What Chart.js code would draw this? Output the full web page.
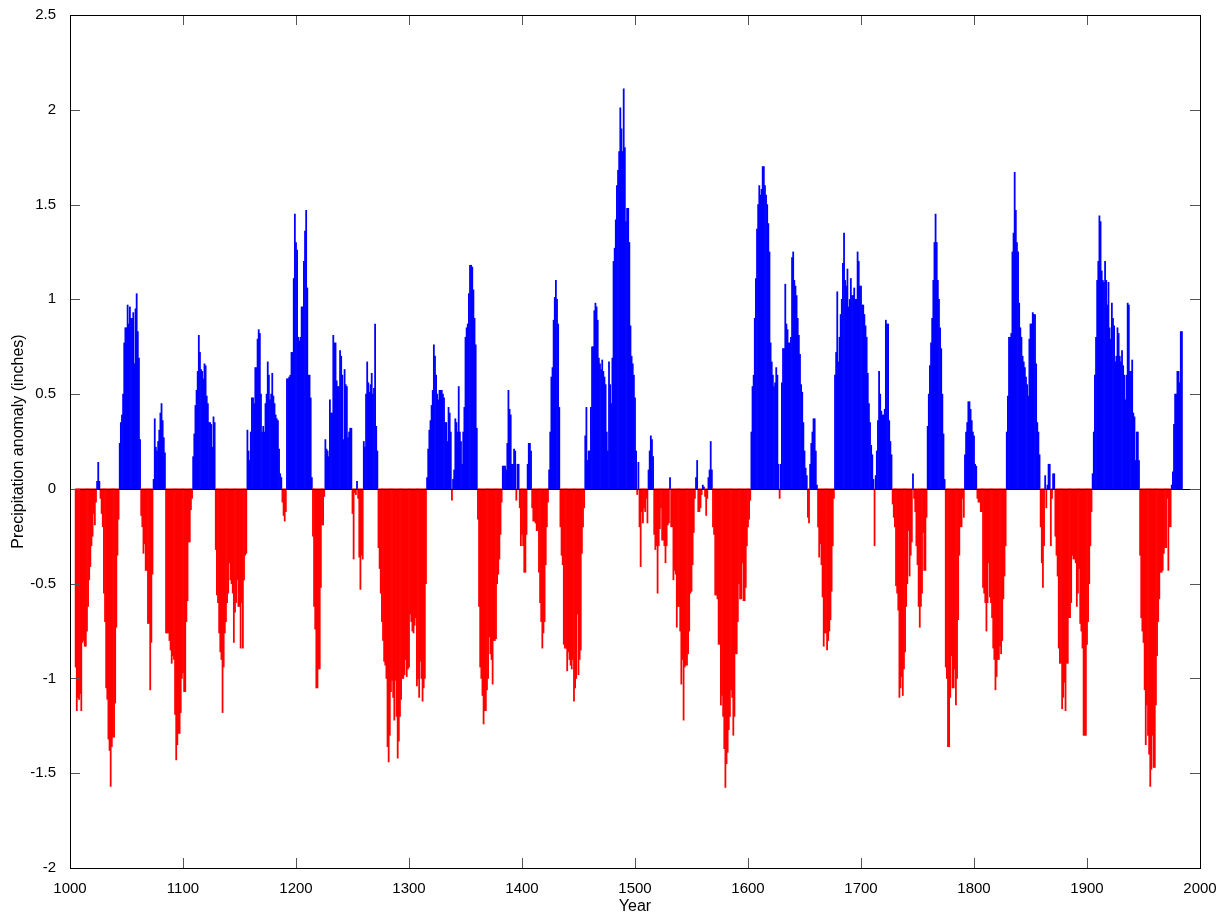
<!DOCTYPE html>
<html>
<head>
<meta charset="utf-8">
<script src="https://cdn.jsdelivr.net/npm/chart.js@4.4.0/dist/chart.umd.min.js"></script>
<style>
  html, body { margin: 0; padding: 0; background: #fff; }
</style>
</head>
<body>
<canvas id="myChart" width="1225" height="918"></canvas>
<script>
// yearly precipitation anomaly (inches), one value per year
const firstYear = 1005;

const p1000s = [
  -0.94, -1.17, -1.1, -1.11, -1.08,
  -1.17, -0.81, -0.8, -0.83, -0.83, -0.75, -0.62, -0.48, -0.41, -0.3,
  -0.25, -0.13, -0.19, -0.07, 0.04, 0.14, 0.04, -0.05, -0.13, -0.2,
  -0.55, -0.7, -1.05, -1.11, -1.32, -1.38, -1.57, -1.36, -1.31, -1.31,
  -1.13, -0.73, -0.35, -0.16, 0.24, 0.35, 0.39, 0.5, 0.77, 0.85,
  0.85, 0.97, 0.87, 0.96, 0.9, 0.9, 0.93, 0.66, 0.95, 1.03,
  0.83, 0.69, 0.26, -0.14, -0.2, -0.34, -0.29, -0.43, -0.43, -0.71,
  -0.71, -1.06, -0.81, -0.45, 0.05, 0.37, 0.22, 0.2, 0.25, 0.31,
  0.4, 0.45, 0.36, 0.27, 0.19, -0.76, -0.76, -0.76, -0.8, -0.85,
  -0.92, -0.88, -0.9, -1.19, -1.43, -1.35, -1.29, -1.29, -1.18, -1.0
];
const p1100s = [
  -0.97, -1.07, -1.07, -0.7, -0.59, -0.28, -0.28, -0.11, -0.05, 0.17,
  0.29, 0.44, 0.52, 0.62, 0.81, 0.72, 0.63, 0.62, 0.58, 0.66,
  0.65, 0.49, 0.45, 0.35, 0.35, 0.34, 0.22, 0.38, 0.35, -0.32,
  -0.56, -0.6, -0.76, -0.86, -0.9, -1.18, -0.94, -0.76, -0.7, -0.6,
  -0.55, -0.39, -0.48, -0.5, -0.55, -0.81, -0.65, -0.6, -0.48, -0.62,
  -0.62, -0.84, -0.6, -0.84, -0.48, -0.35, -0.34, 0.31, 0.2, 0.15,
  0.3, 0.48, 0.48, 0.45, 0.64, 0.64, 0.79, 0.84, 0.82, 0.5,
  0.3, 0.33, 0.3, 0.45, 0.5, 0.67, 0.6, 0.47, 0.5, 0.61,
  0.49, 0.45, 0.39, 0.37, 0.36, 0.21, 0.08, 0.06, -0.07, -0.14,
  -0.17, -0.12, 0.58, 0.58, 0.59, 0.6, 0.72, 0.72, 1.11, 1.45
];
const p1200s = [
  1.3, 1.26, 0.8, 0.78, 0.8, 0.96, 0.96, 1.2, 1.36, 1.47,
  1.06, 0.6, 0.6, 0.48, 0.06, -0.25, -0.62, -0.74, -1.05, -1.05,
  -0.95, -0.95, -0.52, -0.19, -0.19, -0.04, 0.26, 0.21, 0.2, 0.17,
  0.47, 0.4, 0.4, 0.81, 0.77, 0.77, 0.57, 0.54, 0.54, 0.73,
  0.7, 0.6, 0.26, 0.63, 0.55, 0.54, 0.27, 0.3, 0.32, 0.32,
  -0.13, -0.37, -0.02, -0.03, 0.04, -0.05, -0.36, -0.53, -0.35, -0.37,
  0.25, 0.22, 0.5, 0.67, 0.56, 0.51, 0.55, 0.61, 0.5, 0.53,
  0.87, 0.33, 0.2, -0.31, -0.42, -0.55, -0.7, -0.8, -0.91, -0.93,
  -1.0, -1.36, -1.44, -1.3, -1.07, -1.01, -1.1, -1.22, -1.01, -1.2,
  -1.42, -1.33, -1.2, -1.11, -1.0, -1.0, -0.98, -0.9, -0.99, -0.95
];
const p1300s = [
  -0.94, -0.66, -0.7, -0.75, -0.76, -0.72, -0.68, -1.04, -1.0, -1.1,
  -0.91, -1.0, -1.12, -1.05, -1.0, -0.5, 0.06, 0.21, 0.31, 0.36,
  0.44, 0.52, 0.76, 0.7, 0.6, 0.5, 0.47, 0.52, 0.52, 0.52,
  0.5, 0.48, 0.35, 0.35, 0.25, 0.43, 0.4, 0.3, -0.06, 0.05,
  0.1, 0.37, 0.35, 0.3, 0.54, 0.3, 0.25, 0.13, 0.3, 0.43,
  0.8, 0.85, 0.87, 1.03, 1.18, 1.18, 1.17, 1.05, 0.9, 0.76,
  0.32, -0.16, -0.62, -0.94, -1.0, -1.09, -1.24, -1.17, -1.17, -1.06,
  -1.0, -0.78, -0.87, -0.9, -1.03, -0.8, -0.8, -0.79, -0.5, -0.45,
  -0.37, -0.24, -0.07, 0.12, 0.12, 0.12, 0.1, 0.24, 0.52, 0.42,
  0.39, 0.13, 0.13, 0.21, 0.2, -0.06, 0.13, 0.13, -0.1, -0.3
];
const p1400s = [
  -0.24, -0.3, -0.44, -0.44, -0.24, 0.13, 0.24, 0.24, 0.2, -0.1,
  -0.17, -0.17, -0.18, -0.22, -0.22, -0.44, -0.6, -0.7, -0.84, -0.76,
  -0.7, -0.4, -0.2, -0.07, 0.1, 0.3, 0.59, 0.64, 0.89, 1.01,
  1.1, 1.0, 0.87, 0.43, -0.2, -0.35, -0.4, -0.82, -0.84, -0.84,
  -0.96, -0.86, -0.9, -0.93, -0.95, -0.9, -1.12, -1.05, -1.0, -0.66,
  -0.98, -0.9, -0.85, -0.34, -0.2, -0.1, 0.28, 0.43, 0.15, 0.2,
  0.2, 0.43, 0.75, 0.75, 0.94, 0.98, 0.96, 0.89, 0.69, 0.66,
  0.63, 0.68, 0.62, 0.59, 0.55, 0.3, 0.2, 0.67, 0.55, 0.45,
  0.69, 1.2, 1.27, 1.42, 1.6, 1.68, 1.78, 2.01, 1.9, 1.78,
  2.11, 1.8, 1.41, 1.48, 1.48, 1.3, 0.86, 0.7, 0.66, 0.6
];
const p1500s = [
  0.48, 0.2, -0.03, 0.14, -0.2, -0.41, -0.12, -0.18, -0.1, -0.12,
  -0.05, -0.18, 0.1, 0.2, 0.28, 0.26, 0.17, -0.24, -0.32, -0.3,
  -0.55, -0.3, -0.21, -0.1, -0.27, -0.27, -0.3, -0.39, -0.3, -0.19,
  -0.18, 0.06, -0.2, -0.2, -0.48, -0.43, -0.45, -0.73, -0.62, -0.62,
  -0.75, -1.03, -0.9, -1.22, -0.94, -0.93, -0.93, -0.87, -0.75, -0.55,
  -0.54, -0.4, -0.23, -0.05, 0.06, 0.15, -0.12, -0.12, -0.1, -0.03,
  0.02, 0.01, -0.04, -0.14, -0.05, 0.06, 0.1, 0.25, 0.1, -0.2,
  -0.24, -0.56, -0.56, -0.58, -0.82, -0.82, -1.14, -1.09, -1.2, -1.37,
  -1.575, -1.45, -1.39, -1.27, -1.2, -1.06, -1.1, -1.3, -1.2, -0.87,
  -0.87, -0.7, -0.5, -0.58, -0.58, -0.39, -0.59, -0.59, -0.52, -0.3
];
const p1600s = [
  -0.2, -0.16, -0.06, 0.3, 0.54, 0.6, 0.9, 1.11, 1.37, 1.5,
  1.6, 1.55, 1.58, 1.7, 1.7, 1.6, 1.55, 1.5, 1.4, 1.25,
  0.77, 0.67, 0.6, 0.54, 0.56, 0.64, 0.6, 0.13, -0.05, 0.13,
  0.56, 0.74, 0.74, 1.08, 0.87, 0.84, 0.77, 0.77, 0.8, 1.22,
  1.25, 1.1, 1.07, 1.02, 0.9, 0.81, 0.71, 0.55, 0.51, 0.35,
  0.2, 0.11, 0.07, -0.15, -0.18, 0.13, 0.24, 0.3, 0.37, 0.37,
  0.2, 0.02, -0.2, -0.36, -0.29, -0.4, -0.57, -0.83, -0.76, -0.76,
  -0.85, -0.8, -0.75, -0.69, -0.54, -0.3, -0.05, 0.6, 0.72, 1.04,
  0.67, 0.8, 0.92, 1.0, 1.19, 1.35, 1.1, 1.07, 1.16, 0.96,
  1.0, 1.11, 1.02, 1.02, 1.06, 1.0, 1.0, 1.25, 1.2, 1.07
];
const p1700s = [
  1.07, 0.97, 0.97, 0.92, 0.86, 0.8, 0.61, 0.45, 0.35, 0.23,
  0.18, 0.05, -0.3, 0.07, 0.2, 0.36, 0.62, 0.5, 0.41, 0.39,
  0.39, 0.42, 0.89, 0.87, 0.87, 0.36, 0.25, 0.18, -0.08, -0.15,
  -0.2, -0.51, -0.55, -0.64, -1.1, -1.05, -0.99, -1.09, -0.95, -0.86,
  -0.62, -0.5, -0.22, -0.46, -0.35, -0.28, 0.08, -0.05, -0.12, -0.3,
  -0.4, -0.62, -0.73, -0.62, -0.55, -0.23, -0.43, -0.43, -0.15, 0.33,
  0.5, 0.65, 0.77, 0.9, 1.1, 1.3, 1.45, 1.3, 1.1, 1.0,
  0.85, 0.74, 0.5, 0.29, 0.05, -0.94, -1.0, -1.36, -1.36, -1.1,
  -0.88, -1.05, -1.05, -0.95, -1.14, -1.0, -0.69, -0.35, -0.2, -0.2,
  -0.05, -0.15, 0.18, 0.3, 0.35, 0.46, 0.46, 0.42, 0.36, 0.3
];
const p1800s = [
  0.28, 0.13, 0.12, -0.05, -0.07, -0.07, -0.12, -0.12, -0.52, -0.55,
  -0.6, -0.75, -0.6, -0.39, -0.57, -0.6, -0.68, -0.84, -0.9, -1.06,
  -0.99, -0.9, -0.9, -0.83, -0.87, -0.8, -0.58, -0.46, -0.3, 0.3,
  0.49, 0.8, 0.8, 0.82, 1.25, 1.35, 1.67, 1.47, 1.3, 1.25,
  0.98, 0.85, 0.8, 0.7, 0.67, 0.64, 0.59, 0.55, 0.49, 0.79,
  0.87, 0.87, 0.93, 0.92, 0.92, 0.66, 0.35, 0.3, 0.18, -0.2,
  -0.39, -0.52, -0.3, 0.07, -0.1, 0.02, 0.13, 0.13, -0.3, -0.05,
  0.08, 0.08, -0.25, -0.35, -0.46, -0.84, -0.92, -0.92, -1.16, -1.1,
  -1.02, -1.17, -0.92, -0.92, -0.68, -0.68, -0.6, -0.35, -0.37, -0.37,
  -0.39, -0.62, -0.55, -0.42, -0.71, -0.75, -0.84, -1.3, -1.3, -1.3
];
const p1900s = [
  -0.82, -0.7, -0.5, -0.3, -0.12, 0.08, 0.3, 0.6, 0.8, 1.1,
  1.2, 1.44, 1.41, 1.15, 1.1, 1.09, 1.2, 1.1, 0.97, 1.09,
  0.85, 0.79, 0.98, 0.9, 0.86, 0.67, 0.7, 0.85, 0.82, 0.7,
  0.67, 0.73, 0.65, 0.6, 0.47, 0.6, 0.98, 0.97, 0.62, 0.62,
  0.68, 0.4, 0.38, 0.15, 0.3, 0.3, 0.15, -0.35, -0.68, -0.75,
  -0.81, -1.06, -1.35, -1.14, -1.3, -1.4, -1.57, -1.48, -1.3, -1.47,
  -1.47, -1.14, -0.88, -0.7, -0.58, -0.44, -0.44, -0.43, -0.34, -0.31,
  -0.31, -0.05, -0.43, -0.2, -0.2, 0.02, 0.09, 0.34, 0.5, 0.5,
  0.62, 0.62, 0.56, 0.83, 0.83
];

const xTicks = [1000, 1100, 1200, 1300, 1400, 1500, 1600, 1700, 1800, 1900, 2000];
const yTicks = [-2, -1.5, -1, -0.5, 0, 0.5, 1, 1.5, 2, 2.5];

const precip = [].concat(p1000s, p1100s, p1200s, p1300s, p1400s,
  p1500s, p1600s, p1700s, p1800s, p1900s);
const years = precip.map((v, i) => firstYear + i);

const family = "'Liberation Sans', Arial, Helvetica, sans-serif";
const tickFont = { family: family, size: 15 };
const titleFont = { family: family, size: 16 };

// MATLAB style frame: box, inward ticks on all sides, baseline at 0
const framePlugin = {
  id: "frame",
  afterDatasetsDraw(chart) {
    const ctx = chart.ctx;
    const a = chart.chartArea;
    const xs = chart.scales.x;
    const ys = chart.scales.y;
    const len = 10;
    ctx.save();
    ctx.lineWidth = 1;

    let y0 = Math.round(ys.getPixelForValue(0)) + 0.5;
    ctx.strokeStyle = "#000";
    ctx.beginPath();
    ctx.moveTo(a.left, y0);
    ctx.lineTo(a.right, y0);
    ctx.stroke();

    ctx.strokeStyle = "#555";
    ctx.beginPath();
    yTicks.forEach((t) => {
      let py = Math.round(ys.getPixelForValue(t)) + 0.5;
      ctx.moveTo(a.left, py);
      ctx.lineTo(a.left + len, py);
      ctx.moveTo(a.right, py);
      ctx.lineTo(a.right - len, py);
    });
    xTicks.forEach((t) => {
      let px = Math.round(xs.getPixelForValue(t)) + 0.5;
      ctx.moveTo(px, a.bottom);
      ctx.lineTo(px, a.bottom - len);
      ctx.moveTo(px, a.top);
      ctx.lineTo(px, a.top + len);
    });
    ctx.stroke();

    ctx.strokeStyle = "#000";
    ctx.strokeRect(Math.round(a.left) + 0.5, Math.round(a.top) + 0.5,
      Math.round(a.right - a.left), Math.round(a.bottom - a.top));
    ctx.restore();
  }
};

const ctx = document.getElementById("myChart").getContext("2d");
new Chart(ctx, {
  type: "bar",
  data: {
    datasets: [
      {
        label: "Precipitation anomaly",
        data: precip.map((v, i) => ({ x: years[i], y: v })),
        backgroundColor: precip.map((v) => (v >= 0 ? "#0000ff" : "#ff0000")),
        borderWidth: 0,
        barPercentage: 1,
        categoryPercentage: 1
      }
    ]
  },
  options: {
    responsive: false,
    animation: false,
    events: [],
    layout: { padding: { top: 15, right: 25, left: 0, bottom: 0 } },
    plugins: {
      legend: { display: false },
      tooltip: { enabled: false }
    },
    scales: {
      x: {
        type: "linear",
        min: 1000,
        max: 2000,
        offset: false,
        grid: { display: false, offset: false },
        border: { display: false },
        afterBuildTicks: (scale) => {
          scale.ticks = xTicks.map((v) => ({ value: v }));
        },
        afterFit: (scale) => {
          scale.height = 50;
        },
        ticks: {
          color: "#000",
          font: tickFont,
          padding: 4,
          maxRotation: 0,
          autoSkip: false,
          callback: (v) => String(v)
        },
        title: {
          display: true,
          text: "Year",
          color: "#000",
          font: titleFont,
          padding: { top: 0, bottom: 2 }
        }
      },
      y: {
        min: -2,
        max: 2.5,
        grid: { display: false },
        border: { display: false },
        afterBuildTicks: (scale) => {
          scale.ticks = yTicks.map((v) => ({ value: v }));
        },
        afterFit: (scale) => {
          scale.width = 70;
        },
        ticks: {
          color: "#000",
          font: tickFont,
          padding: 6,
          callback: (v) => String(v)
        },
        title: {
          display: true,
          text: "Precipitation anomaly (inches)",
          color: "#000",
          font: titleFont,
          padding: { top: 9, bottom: 0 }
        }
      }
    }
  },
  plugins: [framePlugin]
});
</script>
</body>
</html>
